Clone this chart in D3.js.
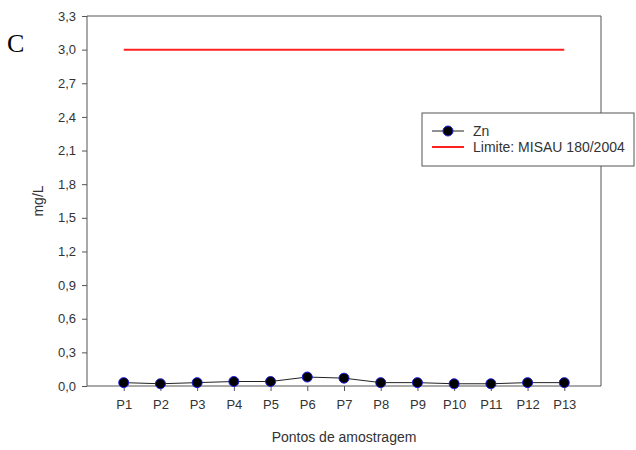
<!DOCTYPE html>
<html>
<head>
    <style>
        body { margin: 0; background: #fff; }
        text { font-family: "Liberation Sans", Arial, sans-serif; fill: #333; }
        .axis path, .axis line { stroke: #555; }
        .axis text { font-size: 13px; fill: #333; }
        .title { font-size: 14px; }
        .legend text { font-size: 14px; fill: #333; }
        .letter { font-family: "Liberation Serif", "Times New Roman", serif; font-size: 26px; fill: #000; }
    </style>
    <script src="https://d3js.org/d3.v7.min.js"></script>
</head>
<body>
    <svg id="chart" width="636" height="450"></svg>
    <script>
        var categories = ["P1", "P2", "P3", "P4", "P5", "P6", "P7", "P8", "P9", "P10", "P11", "P12", "P13"];
        var znValues = [0.03, 0.02, 0.03, 0.04, 0.04, 0.08, 0.07, 0.03, 0.03, 0.02, 0.02, 0.03, 0.03];
        var limitValue = 3.0;
        var yTicks = [0, 0.3, 0.6, 0.9, 1.2, 1.5, 1.8, 2.1, 2.4, 2.7, 3.0, 3.3];

        var svg = d3.select("#chart");
        var margin = { top: 16, left: 87, right: 35, bottom: 64 };
        var width = 636 - margin.left - margin.right,
            height = 450 - margin.top - margin.bottom;

        var g = svg.append("g")
            .attr("transform", "translate(" + margin.left + "," + margin.top + ")");

        // x positions: P1..P13 sit at 1..13 of a 0..14 range
        var x = d3.scaleLinear().domain([0, categories.length + 1]).range([0, width]);
        var y = d3.scaleLinear().domain([0, 3.3]).range([height, 0]);

        // frame top/right
        g.append("path")
            .attr("d", "M0,0H" + width + "V" + height)
            .attr("fill", "none")
            .attr("stroke", "#555");

        var fmt = function (d) { return d3.format(".1f")(d).replace(".", ","); };

        g.append("g")
            .attr("class", "axis")
            .call(d3.axisLeft(y).tickValues(yTicks).tickFormat(fmt).tickSize(5).tickPadding(6))
            .call(function (a) { a.select(".domain").attr("d", "M0," + height + "V0"); });

        g.append("g")
            .attr("class", "axis")
            .attr("transform", "translate(0," + height + ")")
            .call(d3.axisBottom(x)
                .tickValues(d3.range(1, categories.length + 1))
                .tickFormat(function (d) { return categories[d - 1]; })
                .tickSize(5).tickPadding(9))
            .call(function (a) { a.select(".domain").attr("d", "M0,0H" + width); });

        // limit line
        g.append("line")
            .attr("x1", x(1)).attr("x2", x(categories.length))
            .attr("y1", y(limitValue)).attr("y2", y(limitValue))
            .attr("stroke", "#ff2020")
            .attr("stroke-width", 2);

        // Zn series
        var line = d3.line()
            .x(function (d, i) { return x(i + 1); })
            .y(function (d) { return y(d); });

        g.append("path")
            .datum(znValues)
            .attr("d", line)
            .attr("fill", "none")
            .attr("stroke", "#222")
            .attr("stroke-width", 1);

        g.selectAll(".pt")
            .data(znValues)
            .enter()
            .append("circle")
            .attr("class", "pt")
            .attr("cx", function (d, i) { return x(i + 1); })
            .attr("cy", function (d) { return y(d); })
            .attr("r", 5)
            .attr("fill", "#000")
            .attr("stroke", "#2020e0")
            .attr("stroke-width", 1);

        // legend
        var lg = svg.append("g").attr("class", "legend").attr("transform", "translate(422,113)");
        lg.append("rect")
            .attr("width", 212).attr("height", 53)
            .attr("fill", "#fff")
            .attr("stroke", "#555");
        lg.append("line").attr("x1", 10).attr("x2", 42).attr("y1", 18).attr("y2", 18)
            .attr("stroke", "#222");
        lg.append("circle").attr("cx", 26).attr("cy", 18).attr("r", 5)
            .attr("fill", "#000").attr("stroke", "#2020e0");
        lg.append("text").attr("x", 51).attr("y", 23).text("Zn");
        lg.append("line").attr("x1", 10).attr("x2", 42).attr("y1", 34).attr("y2", 34)
            .attr("stroke", "#ff2020").attr("stroke-width", 2);
        lg.append("text").attr("x", 51).attr("y", 39).text("Limite: MISAU 180/2004");

        // axis titles
        svg.append("text")
            .attr("class", "title")
            .attr("transform", "translate(43," + (margin.top + height / 2) + ") rotate(-90)")
            .attr("text-anchor", "middle")
            .text("mg/L");

        svg.append("text")
            .attr("class", "title")
            .attr("x", margin.left + width / 2)
            .attr("y", 442)
            .attr("text-anchor", "middle")
            .text("Pontos de amostragem");

        // panel letter
        svg.append("text")
            .attr("class", "letter")
            .attr("x", 7).attr("y", 52)
            .text("C");
    </script>
</body>
</html>
